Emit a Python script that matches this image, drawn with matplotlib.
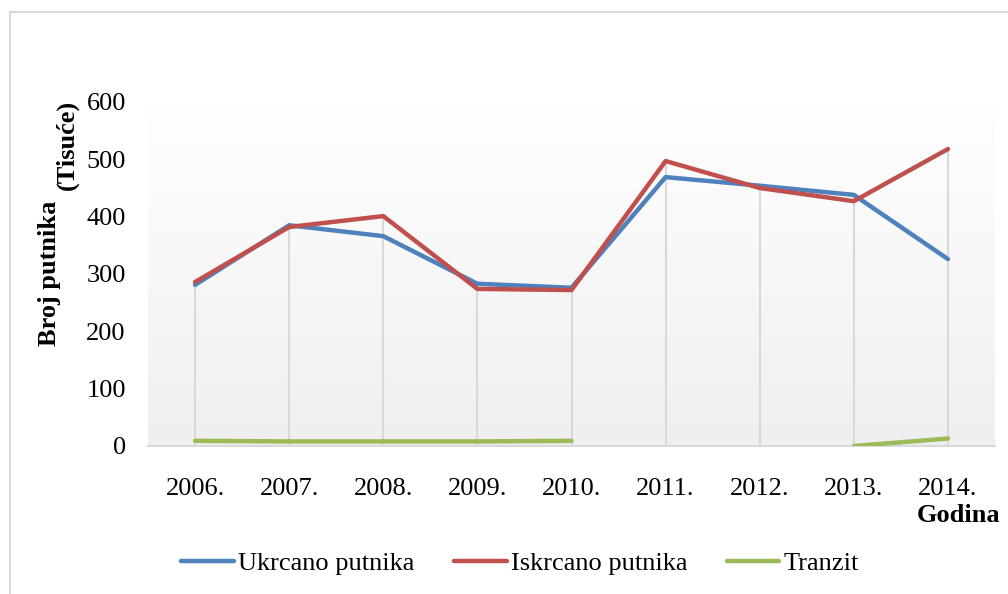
import numpy as np
import matplotlib
matplotlib.use('Agg')
import matplotlib.pyplot as plt
from matplotlib.patches import Rectangle

# data (thousands of passengers)
years = ['2006.', '2007.', '2008.', '2009.', '2010.', '2011.', '2012.', '2013.', '2014.']
ukrcano = [281, 385, 366, 283, 276, 469, 454, 438, 326]
iskrcano = [286, 382, 401, 274, 272, 497, 450, 427, 518]
tranzit = [9, 8, 8, 8, 9, np.nan, np.nan, 0, 13]

plt.rcParams['font.family'] = ['Liberation Serif', 'DejaVu Serif']
FS = 19

fig = plt.figure(figsize=(10.08, 5.94), dpi=100)
ax = fig.add_axes([148 / 1008, 1 - 446 / 594, 847 / 1008, 344 / 594])

x = np.arange(len(years))

# background gradient of the plot area (white at top, light grey at bottom)
g = np.linspace(0.0, 1.0, 256)[:, None, None]
img = np.array([1.0, 1.0, 1.0]) * (1 - g) + np.array([0.937, 0.937, 0.937]) * g
ax.imshow(img, extent=[-0.5, 8.5, 0, 600], aspect='auto', zorder=0, origin='upper')

# drop lines
tops = np.nanmax(np.vstack([ukrcano, iskrcano, tranzit]), axis=0)
ax.vlines(x, 0, tops, color='#d9d9d9', lw=1.5, zorder=1)

ax.plot(x, ukrcano, color='#4f81bd', lw=3.2, label='Ukrcano putnika', zorder=3,
        solid_capstyle='round')
ax.plot(x, iskrcano, color='#c0504d', lw=3.2, label='Iskrcano putnika', zorder=3,
        solid_capstyle='round')
ax.plot(x, tranzit, color='#9bbb59', lw=3.2, label='Tranzit', zorder=3,
        solid_capstyle='round')

ax.set_xlim(-0.5, 8.5)
ax.set_ylim(0, 600)
ax.set_yticks([0, 100, 200, 300, 400, 500, 600])
ax.set_xticks(x)
ax.set_xticklabels(years)
ax.tick_params(axis='both', length=0, labelsize=FS, colors='black')
ax.tick_params(axis='x', pad=23)
ax.tick_params(axis='y', pad=16)
for s in ['top', 'right', 'left']:
    ax.spines[s].set_visible(False)
ax.spines['bottom'].set_color('#d9d9d9')
ax.spines['bottom'].set_linewidth(1.5)

fig.text(50 / 1008, 1 - 273 / 594, 'Broj putnika', rotation=90, fontsize=FS,
         fontweight='bold', ha='center', va='center')
fig.text(67 / 1008, 1 - 145 / 594, '(Tisuće)', rotation=90, fontsize=FS,
         fontweight='bold', ha='center', va='center')
fig.text(959 / 1008, 1 - 516 / 594, 'Godina', fontsize=FS, fontweight='bold',
         ha='center', va='center')

fig.legend(loc='center', bbox_to_anchor=(520 / 1008, 1 - 563 / 594), ncol=3,
           frameon=False, fontsize=FS, handlelength=2.0, handletextpad=0.15,
           columnspacing=1.5, borderpad=0)

# outer chart border
fig.patches.append(Rectangle((10 / 1008, -0.01), 1.0, 1 - 12 / 594 + 0.01,
                             transform=fig.transFigure, fill=False,
                             edgecolor='#d9d9d9', lw=1.5))

fig.savefig('out.png', dpi=100)
